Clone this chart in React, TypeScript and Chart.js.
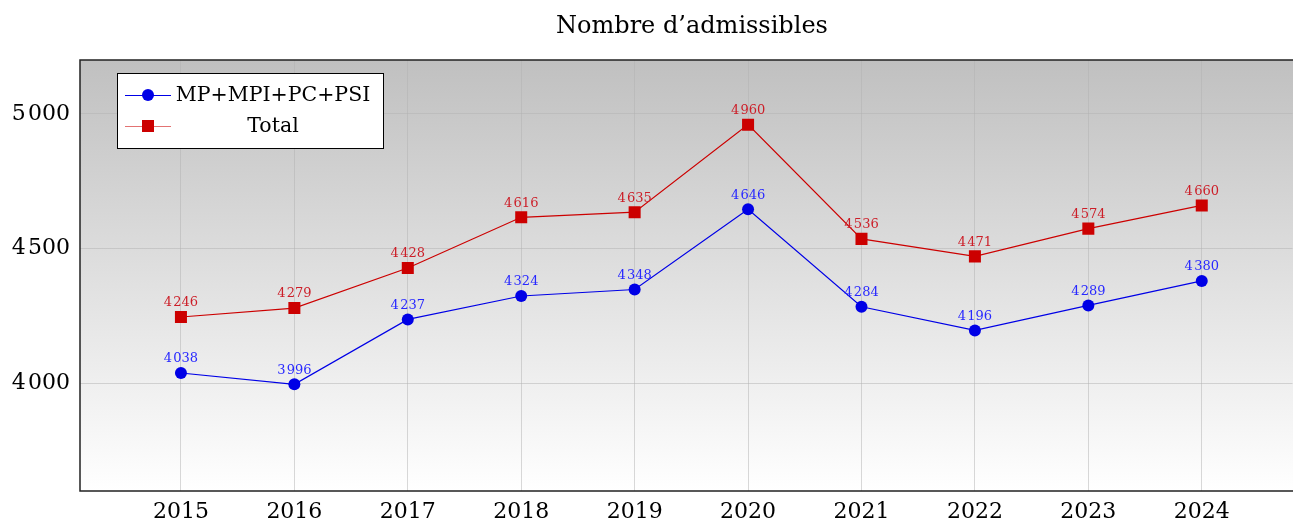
import React, { useEffect, useRef } from "react";
import { Chart, registerables } from "chart.js";

Chart.register(...registerables);

const years = [2015, 2016, 2017, 2018, 2019, 2020, 2021, 2022, 2023, 2024];
const mpValues = [4038, 3996, 4237, 4324, 4348, 4646, 4284, 4196, 4289, 4380];
const totalValues = [4246, 4279, 4428, 4616, 4635, 4960, 4536, 4471, 4574, 4660];
const yTicks = [4000, 4500, 5000];
const seriesNames = ["MP+MPI+PC+PSI", "Total"];
const titleText = "Nombre d\u2019admissibles";

const FONT = "'DejaVu Serif', serif";
const BLUE = "rgb(0,0,230)";
const RED = "rgb(204,0,0)";
const GRID = "rgba(178,178,178,0.5)";

const fmt = (n: number) => {
  const t = Math.floor(n / 1000);
  const r = String(n % 1000).padStart(3, "0");
  return t > 0 ? `${t}\u200A${r}` : String(n);
};

export default function App() {
  const ref = useRef<HTMLCanvasElement | null>(null);
  useEffect(() => {
    document.body.style.margin = "0";
    const canvas = ref.current!;
    const bgPlugin = {
      id: "bg",
      beforeDraw(chart: any) {
        const { ctx, chartArea: a } = chart;
        const g = ctx.createLinearGradient(0, a.top, 0, a.bottom);
        g.addColorStop(0, "#c0c0c0");
        g.addColorStop(1, "#ffffff");
        ctx.save();
        ctx.fillStyle = g;
        ctx.fillRect(a.left, a.top, chart.width - a.left, a.bottom - a.top);
        ctx.restore();
      },
      afterDraw(chart: any) {
        const { ctx, chartArea: a } = chart;
        ctx.save();
        // frame
        ctx.strokeStyle = "#222";
        ctx.lineWidth = 1.5;
        ctx.beginPath();
        ctx.moveTo(chart.width, a.top);
        ctx.lineTo(a.left, a.top);
        ctx.lineTo(a.left, a.bottom);
        ctx.lineTo(chart.width, a.bottom);
        ctx.stroke();
        // title
        ctx.fillStyle = "#000";
        ctx.font = `24px ${FONT}`;
        ctx.textAlign = "center";
        ctx.textBaseline = "middle";
        ctx.fillText(titleText, 692, 27);
        // legend
        const lx = 117, ly = 73, lw = 266, lh = 75;
        ctx.fillStyle = "#fff";
        ctx.fillRect(lx, ly, lw, lh);
        ctx.strokeStyle = "#000";
        ctx.lineWidth = 1;
        ctx.strokeRect(lx + 0.5, ly + 0.5, lw, lh);
        const rows = [
          { y: 95, color: BLUE, lineColor: BLUE, shape: "circle" },
          { y: 126, color: RED, lineColor: "rgba(204,0,0,0.55)", shape: "rect" },
        ];
        rows.forEach((r, i) => {
          ctx.strokeStyle = r.lineColor;
          ctx.lineWidth = 1;
          ctx.beginPath();
          ctx.moveTo(125, r.y + 0.5);
          ctx.lineTo(171, r.y + 0.5);
          ctx.stroke();
          ctx.fillStyle = r.color;
          if (r.shape === "circle") {
            ctx.beginPath();
            ctx.arc(148, r.y, 6, 0, Math.PI * 2);
            ctx.fill();
          } else {
            ctx.fillRect(142, r.y - 6, 12, 12);
          }
          ctx.fillStyle = "#000";
          ctx.font = `20.5px ${FONT}`;
          ctx.textAlign = "center";
          ctx.textBaseline = "middle";
          ctx.fillText(seriesNames[i], 273, r.y + 1);
        });
        ctx.restore();
      },
      afterDatasetsDraw(chart: any) {
        const { ctx } = chart;
        ctx.save();
        ctx.font = `13px ${FONT}`;
        ctx.textAlign = "center";
        ctx.textBaseline = "middle";
        chart.data.datasets.forEach((ds: any, di: number) => {
          const meta = chart.getDatasetMeta(di);
          ctx.fillStyle = di === 0 ? "rgb(40,40,255)" : "rgb(204,30,40)";
          meta.data.forEach((p: any, i: number) => {
            ctx.fillText(fmt(ds.data[i].y), p.x, p.y - 14);
          });
        });
        ctx.restore();
      },
    };

    const chart = new Chart(canvas, {
      type: "line",
      data: {
        datasets: [
          {
            label: seriesNames[0],
            data: years.map((x, i) => ({ x, y: mpValues[i] })),
            borderColor: BLUE,
            backgroundColor: BLUE,
            borderWidth: 1.2,
            pointStyle: "circle",
            pointRadius: 6,
            pointHoverRadius: 6,
            pointBorderWidth: 0,
          },
          {
            label: seriesNames[1],
            data: years.map((x, i) => ({ x, y: totalValues[i] })),
            borderColor: RED,
            backgroundColor: RED,
            borderWidth: 1.2,
            pointStyle: "rect",
            pointRadius: 8.5,
            pointHoverRadius: 8.5,
            pointBorderWidth: 0,
          },
        ],
      },
      options: {
        animation: false,
        responsive: false,
        devicePixelRatio: 1,
        layout: { padding: { top: 60, right: 0, left: 0, bottom: 0 } },
        plugins: {
          legend: { display: false },
          title: { display: false },
          tooltip: { enabled: false },
        },
        scales: {
          x: {
            type: "linear",
            min: 2014.11,
            max: 2024.8,
            afterBuildTicks: (s: any) => {
              s.ticks = years.map((v) => ({ value: v }));
            },
            afterFit: (s: any) => {
              s.height = 28;
            },
            grid: { color: GRID, drawTicks: false },
            border: { display: false },
            ticks: {
              color: "#000",
              font: { family: FONT, size: 22 },
              padding: 8,
              maxRotation: 0,
              autoSkip: false,
              callback: (v: any) => String(v),
            },
          },
          y: {
            min: 3600,
            max: 5200,
            afterBuildTicks: (s: any) => {
              s.ticks = yTicks.map((v) => ({ value: v }));
            },
            afterFit: (s: any) => {
              s.width = 80;
            },
            grid: { color: GRID, drawTicks: false },
            border: { display: false },
            ticks: {
              color: "#000",
              font: { family: FONT, size: 22 },
              padding: 10,
              callback: (v: any) => fmt(Number(v)),
            },
          },
        },
      },
      plugins: [bgPlugin],
    } as any);
    return () => chart.destroy();
  }, []);
  return (
    <div style={{ position: "fixed", left: 0, top: 0, width: 1293, height: 519, overflow: "hidden" }}>
      <canvas ref={ref} width={1301} height={519} />
    </div>
  );
}
